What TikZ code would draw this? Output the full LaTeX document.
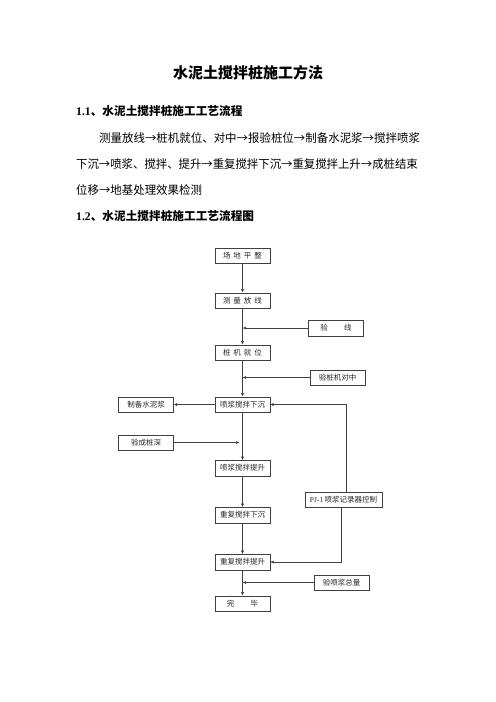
\documentclass[tikz,border=0pt]{standalone}
\usepackage{fontspec}
\setmainfont{Liberation Serif}
\newfontfamily\cjk{Noto Sans CJK SC}
\usepackage{graphicx}
\usepackage{tikz}
\usetikzlibrary{positioning}
\usetikzlibrary{arrows.meta}

\newcommand{\chargap}{\hspace{.4em}}

% Set a line of text to a given width
\newsavebox{\linebox}
\newcommand{\fitline}[2]{%
  \sbox{\linebox}{#2}%
  \pgfmathsetmacro{\fitratio}{#1/\the\wd\linebox}%
  \scalebox{\fitratio}[1]{\usebox{\linebox}}}

\begin{document}
\begin{tikzpicture}[x=1.2pt, y=-1.2pt,
    flowbox/.style={draw=black!75, line width=0.5pt, minimum width=66pt, minimum height=18.6pt, inner sep=0pt, text=black!85, font=\cjk\fontsize{9}{11}\selectfont},
    flowarrow/.style={draw=black!75, line width=0.5pt, -{Latex[length=4pt, width=3.5pt]}}]

        % Page frame
        \useasboundingbox (0,0) rectangle (496,702);

        % x of the main column
        \def\colx{242.5}

        % Title and headings
        \node (title) at (248,73) {\cjk\bfseries\fontsize{18}{22}\selectfont 水泥土搅拌桩施工方法};
        \node[anchor=west, inner sep=0pt] (head1) at (76,111) {\fontsize{14}{17}\selectfont\bfseries 1.1{\cjk 、水泥土搅拌桩施工工艺流程}};
        \node[anchor=west, inner sep=0pt] (head2) at (76,216) {\fontsize{14}{17}\selectfont\bfseries 1.2{\cjk 、水泥土搅拌桩施工工艺流程图}};

        % Body text, one node per line
        \node[anchor=west, inner sep=0pt] (line1) at (99,138) {\cjk\fontsize{14}{17}\selectfont\fitline{385pt}{测量放线→桩机就位、对中→报验桩位→制备水泥浆→搅拌喷浆}};
        \node[anchor=west, inner sep=0pt] (line2) at (76,164) {\cjk\fontsize{14}{17}\selectfont\fitline{410pt}{下沉→喷浆、搅拌、提升→重复搅拌下沉→重复搅拌上升→成桩结束}};
        \node[anchor=west, inner sep=0pt] (line3) at (76,190) {\cjk\fontsize{14}{17}\selectfont\fitline{151pt}{位移→地基处理效果检测}};

        % Main column of steps
        \foreach \n/\y/\t in {zd/255.5/{场\chargap 地\chargap 平\chargap 整},
                              cl/300.5/{测\chargap 量\chargap 放\chargap 线},
                              jw/352.5/{桩\chargap 机\chargap 就\chargap 位},
                              xc/404.5/{喷浆搅拌下沉},
                              ts/468/{喷浆搅拌提升},
                              cx/515/{重复搅拌下沉},
                              cs/562/{重复搅拌提升},
                              wb/603.5/{完\hspace{2.2em}毕}} {
          \node[flowbox] (\n) at (\colx,\y) {\t};
        }

        % Arrows down the main column
        \foreach \a/\b in {zd/cl, cl/jw, jw/xc, xc/ts, ts/cx, cx/cs, cs/wb} {
          \draw[flowarrow] (\a) -- (\b);
        }

        % Side boxes
        \node[flowbox] (yx) at (336,328) {验\hspace{2.15em}线};
        \node[flowbox] (yd) at (337.5,377.5) {验桩机对中};
        \node[flowbox] (zb) at (146,404.5) {制备水泥浆};
        \node[flowbox] (ys) at (146,442.5) {验成桩深};
        \node[flowbox, minimum width=92.4pt] (pj) at (343.5,499.5) {\rmfamily PJ-1\,{\cjk 喷浆记录器控制}};
        \node[flowbox] (yl) at (341.5,582.5) {验喷浆总量};

        % Side arrows
        \draw[flowarrow] (yx.west) -- (yx.west -| cl.south);
        \draw[flowarrow] (yd.west) -- (yd.west -| jw.south);
        \draw[flowarrow] (xc.west) -- (zb.east);
        \draw[flowarrow, shorten >=3.6pt] (ys.east) -- (ys.east -| xc.south);
        \draw[flowarrow] ([xshift=3.6pt]pj.north) |- (xc.east);
        \draw[flowarrow] ([xshift=-2.2pt]pj.south) |- (cs.east);
        \draw[flowarrow] (yl.west) -- (yl.west -| cs.south);

      \end{tikzpicture}
\end{document}
